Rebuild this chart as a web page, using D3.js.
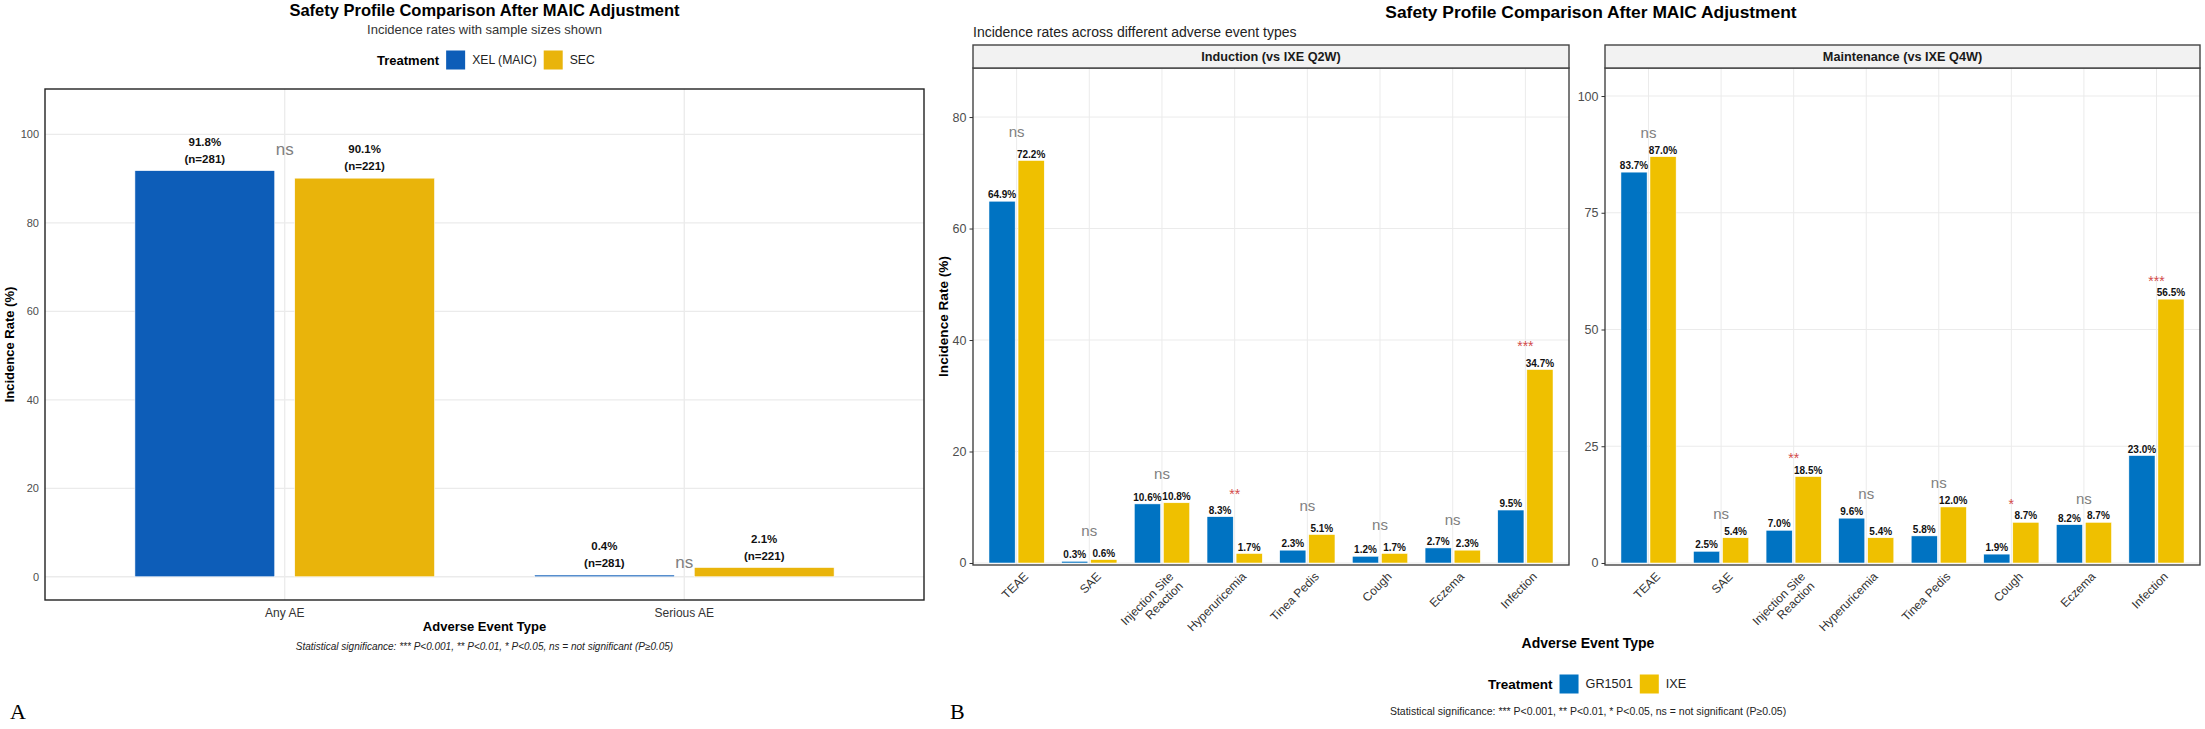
<!DOCTYPE html>
<html>
<head>
<meta charset="utf-8">
<script src="https://cdn.jsdelivr.net/npm/d3@7"></script>
<style>
body { margin: 0; background: #fff; }
text { font-family: "Liberation Sans", Arial, sans-serif; }
</style>
</head>
<body>
<div id="chart"></div>
<script>
const width = 2205;
const height = 729;

// Panel A data
const aCategories = ["Any AE", "Serious AE"];
const aTreatments = ["XEL (MAIC)", "SEC"];
const aXel = [91.8, 0.4];
const aSec = [90.1, 2.1];
const aXelN = [281, 281];
const aSecN = [221, 221];
const aSig = ["ns", "ns"];
const aTicks = [0, 20, 40, 60, 80, 100];

// Panel B data
const bCategories = ["TEAE", "SAE", "Injection Site Reaction", "Hyperuricemia", "Tinea Pedis", "Cough", "Eczema", "Infection"];
const bTreatments = ["GR1501", "IXE"];
const facetNames = ["Induction (vs IXE Q2W)", "Maintenance (vs IXE Q4W)"];
const inductionGR = [64.9, 0.3, 10.6, 8.3, 2.3, 1.2, 2.7, 9.5];
const inductionIXE = [72.2, 0.6, 10.8, 1.7, 5.1, 1.7, 2.3, 34.7];
const inductionSig = ["ns", "ns", "ns", "**", "ns", "ns", "ns", "***"];
const maintGR = [83.7, 2.5, 7.0, 9.6, 5.8, 1.9, 8.2, 23.0];
const maintIXE = [87.0, 5.4, 18.5, 5.4, 12.0, 8.7, 8.7, 56.5];
const maintSig = ["ns", "ns", "**", "ns", "ns", "*", "ns", "***"];
const inductionTicks = [0, 20, 40, 60, 80];
const maintTicks = [0, 25, 50, 75, 100];

// colours
const aColors = ["#0D5DB8", "#E9B40B"];
const bColors = ["#0073C2", "#EFC000"];
const gridColor = "#EBEBEB";
const sigRed = "#D24B4B";
const serif = "'Liberation Serif', 'Times New Roman', serif";

const svg = d3.select("#chart").append("svg")
    .attr("width", width)
    .attr("height", height);

svg.append("rect").attr("width", width).attr("height", height).attr("fill", "white");

function drawLegend(g, x, y, names, colors, fs) {
    const t = g.append("text").attr("x", x).attr("y", y).attr("dy", "0.35em")
        .attr("font-size", fs).attr("font-weight", "bold").text("Treatment");
    let cx = x + t.node().getComputedTextLength() + 7;
    names.forEach((n, i) => {
        g.append("rect").attr("x", cx).attr("y", y - 9.5).attr("width", 19).attr("height", 19).attr("fill", colors[i]);
        const lt = g.append("text").attr("x", cx + 26).attr("y", y).attr("dy", "0.35em")
            .attr("font-size", fs - 0.8).attr("fill", "#222").text(n);
        cx += 26 + lt.node().getComputedTextLength() + 7;
    });
}

// =================== Panel A ===================
const aBox = {left: 45, right: 924, top: 89, bottom: 600};
const xA = d3.scaleBand().domain(aCategories).range([aBox.left, aBox.right]).paddingInner(0).paddingOuter(0.1);
const yA = d3.scaleLinear().domain([-5.25, 110.25]).range([aBox.bottom, aBox.top]);
const stepA = xA.step();
const centerA = c => xA(c) + xA.bandwidth() / 2;

const gA = svg.append("g");

// grid
gA.selectAll("line.hgrid").data(aTicks).enter().append("line")
    .attr("x1", aBox.left).attr("x2", aBox.right)
    .attr("y1", d => yA(d)).attr("y2", d => yA(d))
    .attr("stroke", gridColor).attr("stroke-width", 1.3);
gA.selectAll("line.vgrid").data(aCategories).enter().append("line")
    .attr("x1", d => centerA(d)).attr("x2", d => centerA(d))
    .attr("y1", aBox.top).attr("y2", aBox.bottom)
    .attr("stroke", gridColor).attr("stroke-width", 1.3);

// bars
const aRows = [];
aCategories.forEach((c, i) => {
    aRows.push({cat: c, t: 0, v: aXel[i], n: aXelN[i]});
    aRows.push({cat: c, t: 1, v: aSec[i], n: aSecN[i]});
});
const xmA = d => centerA(d.cat) + (d.t === 0 ? -0.2 : 0.2) * stepA;
gA.selectAll("rect.bar").data(aRows).enter().append("rect")
    .attr("x", d => xmA(d) - 0.175 * stepA)
    .attr("width", 0.35 * stepA)
    .attr("y", d => yA(d.v))
    .attr("height", d => yA(0) - yA(d.v))
    .attr("fill", d => aColors[d.t])
    .attr("stroke", "white").attr("stroke-width", 0.6);

// value labels
const aLab = gA.selectAll("text.val").data(aRows).enter().append("text")
    .attr("x", d => xmA(d))
    .attr("y", d => yA(d.v) - 29)
    .attr("dy", "0.35em")
    .attr("text-anchor", "middle")
    .attr("font-size", 11.5).attr("font-weight", "bold").attr("fill", "#111");
aLab.append("tspan").attr("x", d => xmA(d)).text(d => d.v.toFixed(1) + "%");
aLab.append("tspan").attr("x", d => xmA(d)).attr("dy", 17).text(d => "(n=" + d.n + ")");

// significance
gA.selectAll("text.sig").data(aCategories).enter().append("text")
    .attr("x", d => centerA(d))
    .attr("y", (d, i) => yA(Math.max(aXel[i], aSec[i]) * 1.04 + 1))
    .attr("dy", "0.3em")
    .attr("text-anchor", "middle")
    .attr("font-size", 17).attr("fill", "#808080")
    .text((d, i) => aSig[i]);

// border
gA.append("rect")
    .attr("x", aBox.left).attr("y", aBox.top)
    .attr("width", aBox.right - aBox.left).attr("height", aBox.bottom - aBox.top)
    .attr("fill", "none").attr("stroke", "#222").attr("stroke-width", 1.4);

// axes
const aAxisY = gA.append("g").attr("transform", `translate(${aBox.left},0)`)
    .call(d3.axisLeft(yA).tickValues(aTicks).tickSize(0).tickPadding(6));
aAxisY.select(".domain").remove();
aAxisY.selectAll("text").attr("font-size", 11).attr("fill", "#4D4D4D");

const aAxisX = gA.append("g").attr("transform", `translate(0,${aBox.bottom})`)
    .call(d3.axisBottom(xA).tickSize(0).tickPadding(8));
aAxisX.select(".domain").remove();
aAxisX.selectAll("text").attr("font-size", 12).attr("fill", "#333");

gA.append("text").attr("x", (aBox.left + aBox.right) / 2).attr("y", 631)
    .attr("text-anchor", "middle").attr("font-size", 13).attr("font-weight", "bold")
    .text("Adverse Event Type");
gA.append("text").attr("transform", `translate(14,${(aBox.top + aBox.bottom) / 2}) rotate(-90)`)
    .attr("text-anchor", "middle").attr("font-size", 13).attr("font-weight", "bold")
    .text("Incidence Rate (%)");
gA.append("text").attr("x", (aBox.left + aBox.right) / 2).attr("y", 650)
    .attr("text-anchor", "middle").attr("font-size", 10).attr("font-style", "italic").attr("fill", "#222")
    .text("Statistical significance: *** P<0.001, ** P<0.01, * P<0.05, ns = not significant (P\u22650.05)");

// titles + legend
gA.append("text").attr("x", (aBox.left + aBox.right) / 2).attr("y", 16)
    .attr("text-anchor", "middle").attr("font-size", 16.5).attr("font-weight", "bold")
    .text("Safety Profile Comparison After MAIC Adjustment");
gA.append("text").attr("x", (aBox.left + aBox.right) / 2).attr("y", 34)
    .attr("text-anchor", "middle").attr("font-size", 13).attr("fill", "#333")
    .text("Incidence rates with sample sizes shown");

drawLegend(gA, 377, 60, aTreatments, aColors, 13);

gA.append("text").attr("x", 10).attr("y", 719)
    .style("font-family", serif).attr("font-size", 22).text("A");

// =================== Panel B ===================
const bTop = 68, bBottom = 565, stripTop = 45;
const facets = [
    {name: facetNames[0], left: 973, right: 1569, gr: inductionGR, ixe: inductionIXE, sig: inductionSig,
        ticks: inductionTicks, domain: [-0.36, 88.8]},
    {name: facetNames[1], left: 1605, right: 2200, gr: maintGR, ixe: maintIXE, sig: maintSig,
        ticks: maintTicks, domain: [-0.43, 106]}
];

const gB = svg.append("g");

facets.forEach(f => {
    const x = d3.scaleBand().domain(bCategories).range([f.left, f.right]).paddingInner(0).paddingOuter(0.1);
    const y = d3.scaleLinear().domain(f.domain).range([bBottom, bTop]);
    const step = x.step();
    const cx = c => x(c) + x.bandwidth() / 2;
    const g = gB.append("g");

    g.selectAll("line.h").data(f.ticks).enter().append("line")
        .attr("x1", f.left).attr("x2", f.right)
        .attr("y1", d => y(d)).attr("y2", d => y(d))
        .attr("stroke", gridColor).attr("stroke-width", 1);
    g.selectAll("line.v").data(bCategories).enter().append("line")
        .attr("x1", d => cx(d)).attr("x2", d => cx(d))
        .attr("y1", bTop).attr("y2", bBottom)
        .attr("stroke", gridColor).attr("stroke-width", 1);

    const rows = [];
    bCategories.forEach((c, i) => {
        rows.push({cat: c, t: 0, v: f.gr[i]});
        rows.push({cat: c, t: 1, v: f.ixe[i]});
    });
    const xm = d => cx(d.cat) + (d.t === 0 ? -0.2 : 0.2) * step;

    g.selectAll("rect.bar").data(rows).enter().append("rect")
        .attr("x", d => xm(d) - 0.18 * step)
        .attr("width", 0.36 * step)
        .attr("y", d => y(d.v))
        .attr("height", d => y(0) - y(d.v))
        .attr("fill", d => bColors[d.t])
        .attr("stroke", "white").attr("stroke-width", 0.5);

    g.selectAll("text.val").data(rows).enter().append("text")
        .attr("x", d => xm(d))
        .attr("y", d => y(d.v) - 6.5)
        .attr("dy", "0.35em")
        .attr("text-anchor", "middle")
        .attr("font-size", 10).attr("font-weight", "bold").attr("fill", "#111")
        .text(d => d.v.toFixed(1) + "%");

    g.selectAll("text.sig").data(bCategories).enter().append("text")
        .attr("x", d => cx(d))
        .attr("y", (d, i) => y(Math.max(f.gr[i], f.ixe[i]) + 5))
        .attr("dy", (d, i) => f.sig[i] === "ns" ? "0.3em" : "0.7em")
        .attr("text-anchor", "middle")
        .attr("font-size", (d, i) => f.sig[i] === "ns" ? 15 : 14)
        .attr("fill", (d, i) => f.sig[i] === "ns" ? "#808080" : sigRed)
        .text((d, i) => f.sig[i]);

    // border + strip
    g.append("rect").attr("x", f.left).attr("y", bTop)
        .attr("width", f.right - f.left).attr("height", bBottom - bTop)
        .attr("fill", "none").attr("stroke", "#444").attr("stroke-width", 1.4);
    g.append("rect").attr("x", f.left).attr("y", stripTop)
        .attr("width", f.right - f.left).attr("height", bTop - stripTop)
        .attr("fill", "#F2F2F2").attr("stroke", "#444").attr("stroke-width", 1.4);
    g.append("text").attr("x", (f.left + f.right) / 2).attr("y", (stripTop + bTop) / 2)
        .attr("dy", "0.35em").attr("text-anchor", "middle")
        .attr("font-size", 12.7).attr("font-weight", "bold").attr("fill", "#1A1A1A")
        .text(f.name);

    const ay = g.append("g").attr("transform", `translate(${f.left},0)`)
        .call(d3.axisLeft(y).tickValues(f.ticks).tickSize(3.5).tickPadding(3));
    ay.select(".domain").remove();
    ay.selectAll("line").attr("stroke", "#333");
    ay.selectAll("text").attr("font-size", 12.5).attr("fill", "#4D4D4D");

    // rotated category labels
    const xl = g.selectAll("text.xl").data(bCategories).enter().append("text")
        .attr("transform", d => `translate(${cx(d) + 6},${bBottom + 6}) rotate(-45)`)
        .attr("text-anchor", "end")
        .attr("font-size", 12).attr("fill", "#333");
    xl.each(function (d) {
        const parts = d === "Injection Site Reaction" ? ["Injection Site", "Reaction"] : [d];
        const el = d3.select(this);
        parts.forEach((p, k) => {
            el.append("tspan").attr("x", 0).attr("dy", k === 0 ? "0.75em" : "1.1em").text(p);
        });
    });
});

gB.append("text").attr("x", 943).attr("y", (bTop + bBottom) / 2)
    .attr("transform", `rotate(-90,943,${(bTop + bBottom) / 2})`)
    .attr("text-anchor", "middle").attr("dy", "0.35em")
    .attr("font-size", 13.6).attr("font-weight", "bold")
    .text("Incidence Rate (%)");

gB.append("text").attr("x", 1591).attr("y", 18)
    .attr("text-anchor", "middle").attr("font-size", 17.4).attr("font-weight", "bold")
    .text("Safety Profile Comparison After MAIC Adjustment");
gB.append("text").attr("x", 973).attr("y", 37)
    .attr("font-size", 14).attr("fill", "#222")
    .text("Incidence rates across different adverse event types");

gB.append("text").attr("x", 1588).attr("y", 643).attr("dy", "0.35em")
    .attr("text-anchor", "middle").attr("font-size", 14).attr("font-weight", "bold")
    .text("Adverse Event Type");

drawLegend(gB, 1488, 684, bTreatments, bColors, 13.5);

gB.append("text").attr("x", 1588).attr("y", 711).attr("dy", "0.35em")
    .attr("text-anchor", "middle").attr("font-size", 10.5).attr("fill", "#222")
    .text("Statistical significance: *** P<0.001, ** P<0.01, * P<0.05, ns = not significant (P\u22650.05)");

gB.append("text").attr("x", 950).attr("y", 719)
    .style("font-family", serif).attr("font-size", 22).text("B");
</script>
</body>
</html>
